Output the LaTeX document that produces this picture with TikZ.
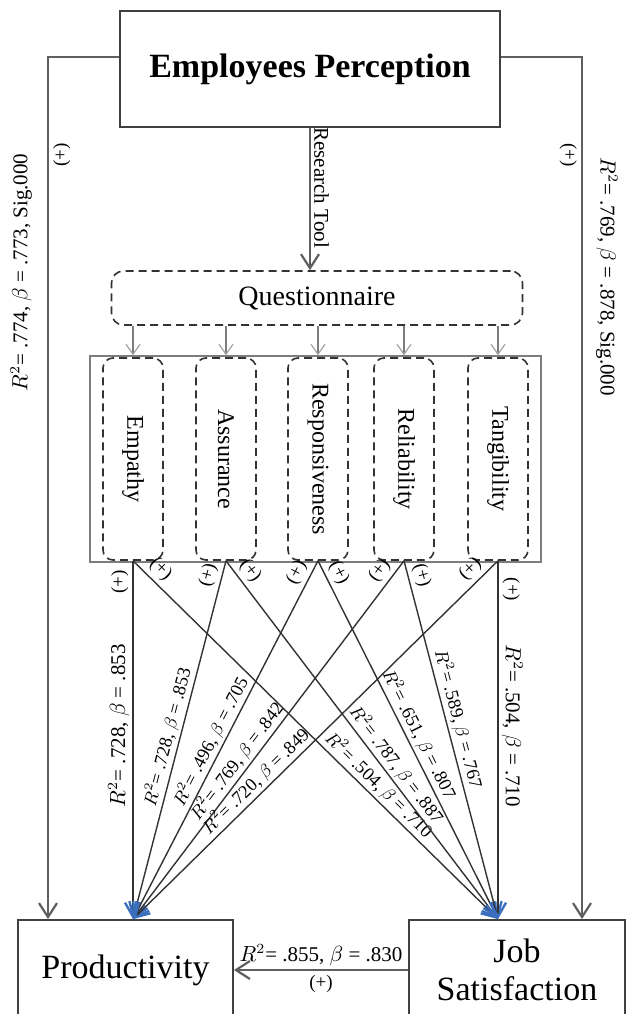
\documentclass[tikz,border=0pt]{standalone}
\usepackage{fontspec}
\setmainfont{Liberation Serif}
\usetikzlibrary{arrows.meta, positioning}
\definecolor{linegrey}{RGB}{95, 95, 95}
\definecolor{framegrey}{RGB}{125, 125, 125}
\definecolor{tipgrey}{RGB}{160, 160, 160}
\definecolor{tipblue}{RGB}{60, 110, 190}

\begin{document}
\begin{tikzpicture}[x=0.5pt, y=-0.5pt,
    box/.style={draw=black!75, line width=0.9pt, inner sep=0pt, align=center, font=\fontsize{17}{19}\selectfont},
    dimbox/.style={draw=black!80, dash pattern=on 4pt off 2.5pt, line width=0.8pt, rounded corners=5pt, minimum width=30pt, minimum height=101pt, inner sep=0pt, font=\fontsize{12}{14}\selectfont},
    link/.style={draw=linegrey, line width=1.1pt, -{Straight Barb[length=7pt, width=9pt]}},
    qlink/.style={draw=framegrey, line width=0.6pt, -{Straight Barb[length=5pt, width=7pt, color=tipgrey]}},
    fan/.style={draw=black!80, line width=0.7pt, -{Straight Barb[length=7pt, width=8pt, line width=1.2pt, color=tipblue]}},
    lbl/.style={font=\fontsize{10.5}{12}\selectfont, inner sep=1.5pt},
    dlbl/.style={font=\fontsize{9.2}{11}\selectfont, inner sep=1.2pt},
    sgn/.style={font=\fontsize{9.5}{11}\selectfont, inner sep=2pt}]
    \useasboundingbox (0,0) rectangle (628,1014);

    \node[box, minimum width=190pt, minimum height=58pt, font=\fontsize{17}{19}\selectfont\bfseries] (ep) at (310,69) {Employees Perception};
    \node[draw=black!80, dash pattern=on 4pt off 2.5pt, line width=0.8pt, rounded corners=6pt,
          minimum width=205.5pt, minimum height=27pt, font=\fontsize{14}{16}\selectfont] (quest) at (317,298) {Questionnaire};
    \node[draw=framegrey, line width=0.7pt, minimum width=225.5pt, minimum height=103pt] (frame) at (315.5,459) {};
    \node[dimbox] (emp) at (133,459) {\rotatebox{-90}{Empathy}};
    \node[dimbox] (ass) at (226,459) {\rotatebox{-90}{Assurance}};
    \node[dimbox] (res) at (318,459) {\rotatebox{-90}{Responsiveness}};
    \node[dimbox] (rel) at (404,459) {\rotatebox{-90}{Reliability}};
    \node[dimbox] (tan) at (498,459) {\rotatebox{-90}{Tangibility}};
    \node[box, minimum width=107.5pt, minimum height=50pt] (prod) at (125.5,970) {Productivity};
    \node[box, minimum width=108pt, minimum height=50pt] (js) at (517,970) {Job\\Satisfaction};

    \coordinate (lt) at (48,57);
    \coordinate (rt) at (582,57);
    \coordinate (pt) at (emp.south |- prod.north);
    \coordinate (jt) at (tan.south |- js.north);

    \draw[link] (ep.west |- lt) -- (lt) -- node[sgn, pos=.114, rotate=90, below] {(+)}
        node[lbl, pos=.25, xshift=-6pt, rotate=90, above] {$R^2$= .774, $\beta$ = .773, Sig.000} (lt |- prod.north);
    \draw[link] (ep.east |- rt) -- (rt) -- node[sgn, pos=.114, rotate=-90, below] {(+)}
        node[lbl, pos=.255, xshift=5pt, rotate=-90, above] {$R^2$= .769, $\beta$ = .878, Sig.000} (rt |- js.north);
    \draw[link] (ep.south) -- node[lbl, pos=.42, rotate=-90, above] {Research Tool} (ep.south |- quest.north);

    \foreach \d in {emp, ass, res, rel, tan}
        \draw[qlink] (quest.south -| \d.north) -- (frame.north -| \d.north);

    \draw[fan] (emp.south) -- node[sgn, pos=.06, rotate=90, above] {(+)}
        node[lbl, pos=.46, rotate=90, above] {$R^2$= .728, $\beta$ = .853} (pt);
    \draw[fan] (ass.south) -- node[sgn, pos=.05, sloped, above] {(+)}
        node[dlbl, pos=.5, sloped, above] {$R^2$= .728, $\beta$ = .853} (pt);
    \draw[fan] (res.south) -- node[sgn, pos=.05, sloped, above] {(+)}
        node[dlbl, pos=.52, sloped, above] {$R^2$= .496, $\beta$ = .705} (pt);
    \draw[fan] (rel.south) -- node[sgn, pos=.05, sloped, above] {(+)}
        node[dlbl, pos=.58, sloped, above] {$R^2$= .769, $\beta$ = .842} (pt);
    \draw[fan] (tan.south) -- node[sgn, pos=.05, sloped, above] {(+)}
        node[dlbl, pos=.64, sloped, above] {$R^2$= .720, $\beta$ = .849} (pt);

    \draw[fan] (emp.south) -- node[sgn, pos=.05, sloped, above] {(+)}
        node[dlbl, pos=.65, sloped, above] {$R^2$= .504, $\beta$ = .710} (jt);
    \draw[fan] (ass.south) -- node[sgn, pos=.05, sloped, above] {(+)}
        node[dlbl, pos=.59, sloped, above] {$R^2$= .787, $\beta$ = .887} (jt);
    \draw[fan] (res.south) -- node[sgn, pos=.05, sloped, above] {(+)}
        node[dlbl, pos=.5, sloped, above] {$R^2$= .651, $\beta$ = .807} (jt);
    \draw[fan] (rel.south) -- node[sgn, pos=.05, sloped, above] {(+)}
        node[dlbl, pos=.45, sloped, above] {$R^2$= .589, $\beta$ = .767} (jt);
    \draw[fan] (tan.south) -- node[sgn, pos=.08, sloped, above] {(+)}
        node[lbl, pos=.46, sloped, above] {$R^2$= .504, $\beta$ = .710} (jt);

    \draw[link] (js.west) -- node[lbl, above] {$R^2$= .855, $\beta$ = .830} node[sgn, below] {(+)} (prod.east);
\end{tikzpicture}
\end{document}
